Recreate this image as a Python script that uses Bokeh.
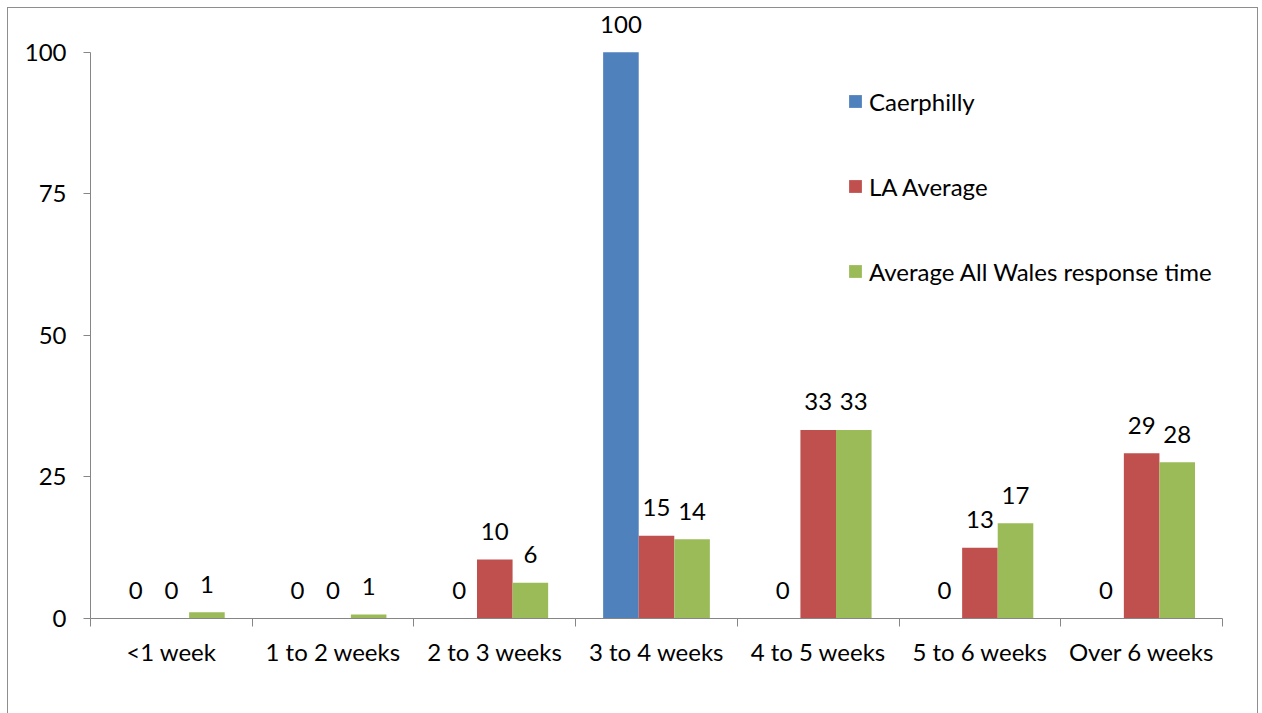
from bokeh.plotting import figure
from bokeh.models import (Range1d, FixedTicker, ColumnDataSource, Legend, LegendItem)
from bokeh.transform import dodge
from bokeh.core.properties import value
from bokeh.embed import file_html
from bokeh.resources import INLINE

categories = ["<1 week", "1 to 2 weeks", "2 to 3 weeks", "3 to 4 weeks",
              "4 to 5 weeks", "5 to 6 weeks", "Over 6 weeks"]
series_names = ["Caerphilly", "LA Average", "Average All Wales response time"]
caerphilly = [0, 0, 0, 100, 0, 0, 0]
la_average = [0, 0, 10.4, 14.6, 33.3, 12.5, 29.2]
all_wales = [1.1, 0.7, 6.3, 14.0, 33.3, 16.8, 27.6]
y_ticks = [0, 25, 50, 75, 100]

colors = ["#4F81BD", "#C0504D", "#9BBB59"]
FONT = "Lato"
FS = "24px"
AXIS_COLOR = "#868686"
BORDER = "#8e8e8e"

xpos = [i + 0.5 for i in range(len(categories))]
src = ColumnDataSource(dict(
    x=xpos,
    s0=caerphilly, s1=la_average, s2=all_wales,
    l0=[str(int(v + 0.5)) for v in caerphilly],
    l1=[str(int(v + 0.5)) for v in la_average],
    l2=[str(int(v + 0.5)) for v in all_wales],
))

px_per_unit = (610 - 43.7) / 100.0
frame_h = 610 - 2
p = figure(width=1249, height=705, output_backend="svg", toolbar_location=None,
           x_range=Range1d(0, len(categories)),
           y_range=Range1d(0, frame_h / px_per_unit),
           min_border_left=82, min_border_right=35, min_border_top=2,
           min_border_bottom=95)
p.outline_line_color = None
p.xgrid.visible = False
p.ygrid.visible = False
p.background_fill_color = "white"
p.border_fill_color = "white"
p.styles = {"margin": "8px 0 0 8px",
            "box-shadow": f"-1px 0 0 {BORDER}, 1px 0 0 {BORDER}, 0 -1px 0 {BORDER}, "
                          f"-1px -1px 0 {BORDER}, 1px -1px 0 {BORDER}"}

bw = 0.22
offsets = [-bw, 0.0, bw]
renderers = []
for k in range(3):
    r = p.vbar(x=dodge("x", offsets[k], range=p.x_range), top=f"s{k}", width=bw,
               bottom=0, source=src, fill_color=colors[k], line_color=None)
    renderers.append(r)
    p.text(x=dodge("x", offsets[k], range=p.x_range), y=f"s{k}", text=f"l{k}",
           source=src, text_align="center", text_baseline="alphabetic",
           y_offset=-28, text_font=value(FONT), text_font_size=FS,
           text_color="#000000")

# x axis
xa = p.xaxis[0]
xa.ticker = FixedTicker(ticks=xpos, minor_ticks=list(range(len(categories) + 1)))
xa.major_label_overrides = {x: c for x, c in zip(xpos, categories)}
xa.major_tick_out = 0
xa.major_tick_in = 0
xa.minor_tick_out = 8
xa.minor_tick_in = 0
xa.minor_tick_line_color = AXIS_COLOR
xa.axis_line_color = AXIS_COLOR
xa.major_label_standoff = 10
xa.major_label_text_font = FONT
xa.major_label_text_font_size = FS
xa.major_label_text_color = "#000000"

# y axis
ya = p.yaxis[0]
ya.ticker = FixedTicker(ticks=y_ticks)
ya.bounds = (0, 100)
ya.major_tick_out = 7
ya.major_tick_in = 0
ya.minor_tick_line_color = None
ya.axis_line_color = AXIS_COLOR
ya.major_tick_line_color = AXIS_COLOR
ya.major_label_standoff = 17
ya.major_label_text_font = FONT
ya.major_label_text_font_size = FS
ya.major_label_text_color = "#000000"

legend = Legend(items=[LegendItem(label=series_names[k], renderers=[renderers[k]]) for k in range(3)],
                location=(757, 332), orientation="vertical")
legend.glyph_width = 16
legend.glyph_height = 16
legend.label_height = 30
legend.spacing = 55
legend.padding = 0
legend.margin = 0
legend.label_standoff = 6
legend.border_line_color = None
legend.background_fill_alpha = 0
legend.label_text_font = FONT
legend.label_text_font_size = FS
legend.label_text_color = "#000000"
p.add_layout(legend)

open("out.html", "w").write(file_html(p, INLINE))
